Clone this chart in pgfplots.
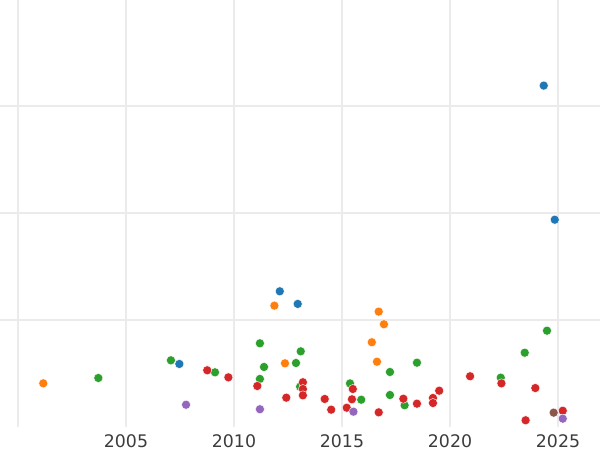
\documentclass[border=0pt]{standalone}
\usepackage{fontspec}
\setmainfont{DejaVu Sans}
\usepackage{pgfplots}
\pgfplotsset{compat=1.18}
\definecolor{cblue}{HTML}{1F77B4}
\definecolor{corange}{HTML}{FF7F0E}
\definecolor{cgreen}{HTML}{2CA02C}
\definecolor{cred}{HTML}{D62728}
\definecolor{cpurple}{HTML}{9467BD}
\definecolor{cbrown}{HTML}{8C564B}
\definecolor{gridc}{HTML}{EBEBEB}
\definecolor{txt}{HTML}{3C3C3C}
\begin{document}
\begin{tikzpicture}
\begin{axis}[
  scale only axis,
  width=450pt, height=320.25pt,
  xmin=1999.167, xmax=2026.944,
  ymin=0, ymax=3.99,
  xtick={2000,2005,2010,2015,2020,2025},
  xticklabels={,2005,2010,2015,2020,2025},
  ytick={1,2,3},
  yticklabels={},
  grid=major,
  major grid style={gridc, line width=0.9pt},
  axis line style={draw=none},
  tick style={draw=none},
  major tick length=0pt,
  /pgf/number format/assume math mode=true,
  xticklabel style={font=\fontsize{13pt}{15pt}\selectfont, text=txt, yshift=-2pt},
  clip=false,
  every axis plot/.append style={only marks, mark=*, mark size=3.4pt},
]
% blue
\addplot[mark options={fill=cblue, draw=white, line width=0.3pt}] coordinates {
(2007.47,0.589) (2012.12,1.268) (2012.95,1.150) (2024.34,3.190) (2024.85,1.937)};
% orange
\addplot[mark options={fill=corange, draw=white, line width=0.3pt}] coordinates {
(2001.17,0.408) (2011.87,1.134) (2012.36,0.595) (2016.70,1.078) (2016.94,0.960) (2016.38,0.792) (2016.62,0.610)};
% green
\addplot[mark options={fill=cgreen, draw=white, line width=0.3pt}] coordinates {
(2003.72,0.458) (2007.08,0.623) (2009.12,0.511) (2011.20,0.782) (2011.39,0.561) (2011.20,0.449)
(2012.87,0.598) (2013.09,0.707) (2013.06,0.377) (2015.37,0.407) (2015.89,0.255) (2017.22,0.514)
(2017.22,0.299) (2017.90,0.203) (2018.47,0.601) (2022.35,0.461) (2023.46,0.694) (2024.49,0.900)};
% red
\addplot[mark options={fill=cred, draw=white, line width=0.3pt}] coordinates {
(2008.76,0.530) (2009.74,0.464) (2011.08,0.383) (2012.42,0.274) (2013.19,0.418) (2013.19,0.355)
(2013.19,0.296) (2014.20,0.262) (2014.50,0.162) (2015.22,0.180) (2015.50,0.355) (2015.46,0.259)
(2016.70,0.137) (2017.84,0.264) (2018.47,0.218) (2019.21,0.271) (2019.21,0.224) (2019.50,0.339)
(2020.93,0.474) (2022.38,0.408) (2023.95,0.364) (2023.50,0.063) (2025.22,0.152)};
% purple
\addplot[mark options={fill=cpurple, draw=white, line width=0.3pt}] coordinates {
(2007.78,0.208) (2011.20,0.166) (2015.53,0.143) (2025.22,0.078)};
% brown
\addplot[mark options={fill=cbrown, draw=white, line width=0.3pt}] coordinates {
(2024.80,0.134)};
\end{axis}
\pgfresetboundingbox
\path ([yshift=-17.25pt]current axis.south west) rectangle (current axis.north east);
\end{tikzpicture}
\end{document}
